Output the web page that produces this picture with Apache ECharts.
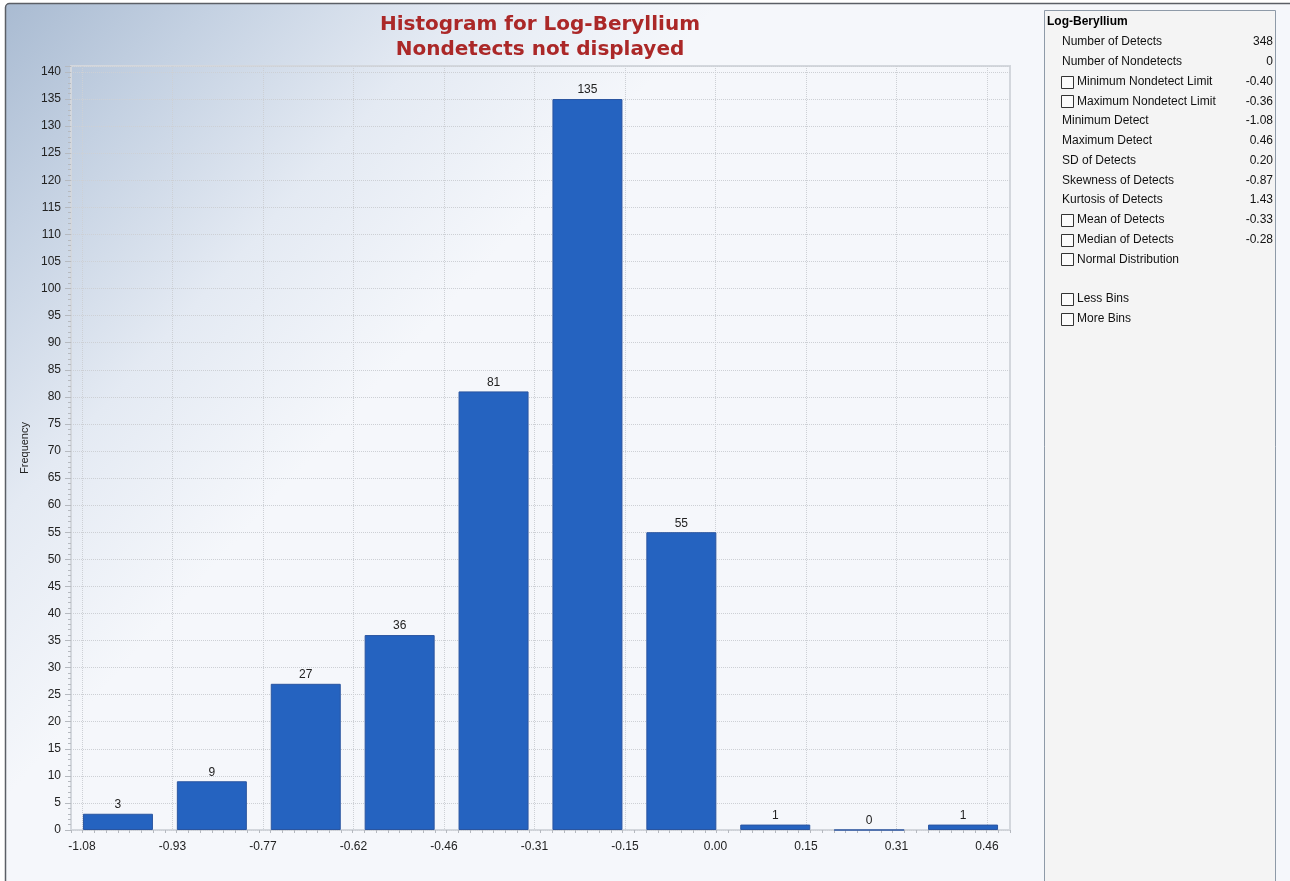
<!DOCTYPE html>
<html>
<head>
<meta charset="utf-8">
<script src="https://cdn.jsdelivr.net/npm/echarts@6/dist/echarts.min.js"></script>
<style>
  html, body { margin: 0; padding: 0; background: #ffffff; }
  #chart { width: 1290px; height: 881px; }
</style>
</head>
<body>
<div id="chart"></div>
<script>
// ---------- data ----------
const titleLines = ['Histogram for Log-Beryllium', 'Nondetects not displayed'];
const yAxisName = 'Frequency';
const bins = ['-1.08 – -0.93', '-0.93 – -0.77', '-0.77 – -0.62', '-0.62 – -0.46', '-0.46 – -0.31',
              '-0.31 – -0.15', '-0.15 – 0.00', '0.00 – 0.15', '0.15 – 0.31', '0.31 – 0.46'];
const counts = [3, 9, 27, 36, 81, 135, 55, 1, 0, 1];
const tickLabels = ['-1.08', '-0.93', '-0.77', '-0.62', '-0.46', '-0.31', '-0.15', '0.00', '0.15', '0.31', '0.46'];

const panelTitle = 'Log-Beryllium';
const statLabels = ['Number of Detects', 'Number of Nondetects', 'Minimum Nondetect Limit', 'Maximum Nondetect Limit',
  'Minimum Detect', 'Maximum Detect', 'SD of Detects', 'Skewness of Detects', 'Kurtosis of Detects',
  'Mean of Detects', 'Median of Detects', 'Normal Distribution', '', 'Less Bins', 'More Bins'];
const statValues = ['348', '0', '-0.40', '-0.36', '-1.08', '0.46', '0.20', '-0.87', '1.43', '-0.33', '-0.28', '', '', '', ''];
const statHasCheckbox = [false, false, true, true, false, false, false, false, false, true, true, true, false, true, true];

// ---------- layout ----------
const FONT = '"Liberation Sans", Arial, sans-serif';
const TITLE_FONT = '"DejaVu Sans", Verdana, sans-serif';
const plotL = 71, plotR = 1010, plotT = 66, plotB = 830;
const tickL = 82, tickR = 987;
const W = 1290, H = 881;

const graphics = [];
// outer frame with soft blue gradient
graphics.push({
  type: 'rect', z: -10, silent: true,
  shape: { x: 5.5, y: 3.5, width: 1400, height: 1000, r: 4 },
  style: {
    fill: new echarts.graphic.LinearGradient(0, 0, 400, 360, [
      { offset: 0, color: '#a8bad1' },
      { offset: 0.3, color: '#c4d1e2' },
      { offset: 0.65, color: '#e4eaf3' },
      { offset: 1, color: '#f5f7fb' }
    ], true),
    stroke: '#5b5f66', lineWidth: 1.5
  }
});
// side panel
const px = 1044.5, py = 10.5;
graphics.push({
  type: 'rect', z: -5, silent: true,
  shape: { x: px, y: py, width: 231, height: 900 },
  style: { fill: '#f4f4f4', stroke: '#8e9aa8', lineWidth: 1 }
});
graphics.push({
  type: 'text', silent: true, x: 1047, y: 22,
  style: { text: panelTitle, font: 'bold 12px ' + FONT, fill: '#000', textVerticalAlign: 'middle', verticalAlign: 'middle' }
});
statLabels.forEach((lab, i) => {
  const y = 42 + i * 19.75;
  if (!lab) return;
  const cb = statHasCheckbox[i];
  if (cb) {
    graphics.push({
      type: 'rect', silent: true,
      shape: { x: 1061.5, y: Math.round(y - 6) + 0.5, width: 12, height: 12 },
      style: { fill: '#fbfbfb', stroke: '#333', lineWidth: 1 }
    });
  }
  graphics.push({
    type: 'text', silent: true, x: cb ? 1077 : 1062, y: y,
    style: { text: lab, font: '12px ' + FONT, fill: '#111', verticalAlign: 'middle', textVerticalAlign: 'middle' }
  });
  if (statValues[i]) {
    graphics.push({
      type: 'text', silent: true, x: 1273, y: y,
      style: { text: statValues[i], font: '12px ' + FONT, fill: '#111', align: 'right', textAlign: 'right', verticalAlign: 'middle', textVerticalAlign: 'middle' }
    });
  }
});

const chart = echarts.init(document.getElementById('chart'), null, { renderer: 'canvas' });
chart.setOption({
  animation: false,
  backgroundColor: '#ffffff',
  title: {
    text: titleLines.join('\n'),
    left: 535, top: 7, textAlign: 'center',
    textStyle: { fontFamily: TITLE_FONT, fontWeight: 'bold', fontSize: 20, color: '#ab2828', lineHeight: 25 }
  },
  graphic: graphics,
  grid: [
    { left: plotL, right: W - plotR, top: plotT, bottom: H - plotB, show: true,
      backgroundColor: 'transparent', borderColor: '#d3d7dd', borderWidth: 2, containLabel: false },
    { left: tickL, right: W - tickR, top: plotT, bottom: H - plotB, show: false, containLabel: false }
  ],
  xAxis: [
    { type: 'category', gridIndex: 0, data: bins, boundaryGap: true,
      axisLine: { show: false }, axisTick: { show: false }, axisLabel: { show: false }, splitLine: { show: false } },
    { type: 'category', gridIndex: 1, data: tickLabels, boundaryGap: false, position: 'bottom',
      axisLine: { show: false }, axisTick: { show: false },
      axisLabel: { show: true, interval: 0, margin: 11, fontFamily: FONT, fontSize: 12, color: '#222' },
      splitLine: { show: true, lineStyle: { color: '#cdd0d5', type: 'dotted', width: 1 } } },
    { type: 'value', gridIndex: 0, min: 0, max: 80, interval: 1, position: 'bottom',
      axisLine: { show: false }, axisLabel: { show: false }, splitLine: { show: false },
      axisTick: { show: true, length: 3, lineStyle: { color: '#b5b9bf' } } }
  ],
  yAxis: [
    { type: 'value', gridIndex: 0, min: 0, max: 141.1, interval: 5,
      name: yAxisName, nameLocation: 'middle', nameRotate: 90, nameGap: 36,
      nameTextStyle: { fontFamily: FONT, fontSize: 11, color: '#222' },
      axisLine: { show: false },
      axisTick: { show: true, length: 6, lineStyle: { color: '#b5b9bf' } },
      minorTick: { show: true, splitNumber: 5, length: 3, lineStyle: { color: '#b5b9bf' } },
      axisLabel: { show: true, margin: 10, fontFamily: FONT, fontSize: 12, color: '#222', showMaxLabel: false },
      splitLine: { show: true, lineStyle: { color: '#cdd0d5', type: 'dotted', width: 1 } } },
    { type: 'value', gridIndex: 1, min: 0, max: 141.1, show: false }
  ],
  series: [
    { type: 'bar', xAxisIndex: 0, yAxisIndex: 0, data: counts, barWidth: 70, z: 3,
      itemStyle: { color: '#2563c0', borderColor: '#2a55a0', borderWidth: 1 },
      label: { show: true, position: 'top', distance: 3, fontFamily: FONT, fontSize: 12, color: '#222' } }
  ]
});
</script>
</body>
</html>
